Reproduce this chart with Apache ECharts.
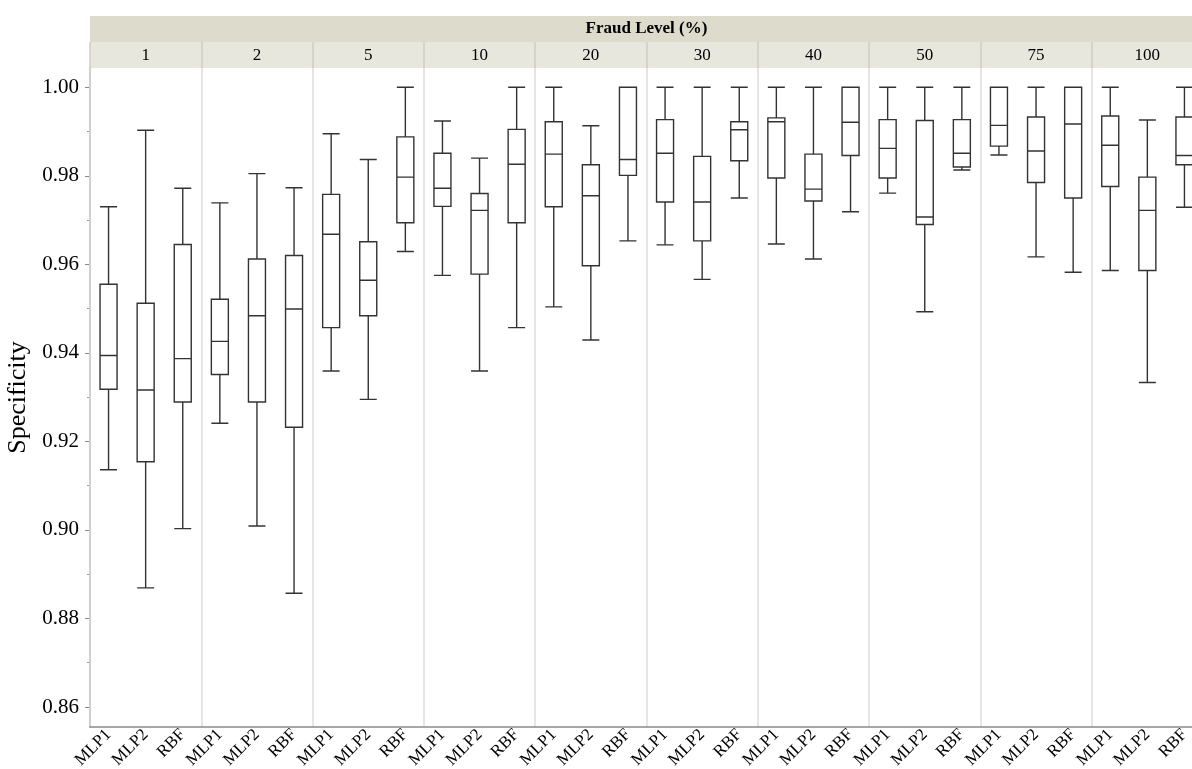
<!DOCTYPE html>
<html>
<head>
<meta charset="utf-8">
<script src="https://cdn.jsdelivr.net/npm/echarts@6/dist/echarts.min.js"></script>
<style>
  html, body { margin: 0; padding: 0; background: #fff; }
  #chart { width: 1192px; height: 769px; }
</style>
</head>
<body>
<div id="chart"></div>
<script>
// Fraud levels (%) and the three classifiers compared at each level
const fraudLevels = ['1', '2', '5', '10', '20', '30', '40', '50', '75', '100'];
const models = ['MLP1', 'MLP2', 'RBF'];

// Specificity box statistics per level: [min, Q1, median, Q3, max]
const mlp1 = [
  [0.9136, 0.9318, 0.9394, 0.9555, 0.9730],
  [0.9241, 0.9351, 0.9426, 0.9521, 0.9739],
  [0.9359, 0.9457, 0.9668, 0.9758, 0.9895],
  [0.9575, 0.9731, 0.9772, 0.9851, 0.9924],
  [0.9504, 0.9730, 0.9849, 0.9922, 1.0000],
  [0.9644, 0.9741, 0.9851, 0.9927, 1.0000],
  [0.9646, 0.9795, 0.9922, 0.9931, 1.0000],
  [0.9761, 0.9795, 0.9862, 0.9927, 1.0000],
  [0.9847, 0.9867, 0.9914, 1.0000, 1.0000],
  [0.9586, 0.9776, 0.9869, 0.9935, 1.0000]
];
const mlp2 = [
  [0.8869, 0.9154, 0.9316, 0.9512, 0.9903],
  [0.9009, 0.9289, 0.9484, 0.9612, 0.9805],
  [0.9295, 0.9484, 0.9564, 0.9651, 0.9837],
  [0.9359, 0.9578, 0.9722, 0.9760, 0.9840],
  [0.9429, 0.9597, 0.9755, 0.9825, 0.9913],
  [0.9566, 0.9653, 0.9741, 0.9844, 1.0000],
  [0.9612, 0.9743, 0.9770, 0.9849, 1.0000],
  [0.9493, 0.9690, 0.9707, 0.9925, 1.0000],
  [0.9617, 0.9785, 0.9856, 0.9933, 1.0000],
  [0.9333, 0.9586, 0.9722, 0.9797, 0.9926]
];
const rbf = [
  [0.9003, 0.9289, 0.9387, 0.9645, 0.9772],
  [0.8857, 0.9232, 0.9499, 0.9620, 0.9773],
  [0.9629, 0.9694, 0.9797, 0.9888, 1.0000],
  [0.9457, 0.9694, 0.9826, 0.9905, 1.0000],
  [0.9653, 0.9801, 0.9837, 1.0000, 1.0000],
  [0.9750, 0.9834, 0.9904, 0.9922, 1.0000],
  [0.9719, 0.9846, 0.9921, 1.0000, 1.0000],
  [0.9813, 0.9820, 0.9851, 0.9927, 1.0000],
  [0.9582, 0.9750, 0.9917, 1.0000, 1.0000],
  [0.9729, 0.9825, 0.9846, 0.9933, 1.0000]
];

// Y axis range and labelled tick values
const yMin = 0.85548;
const yMax = 1.00436;
const yTicks = [0.86, 0.88, 0.90, 0.92, 0.94, 0.96, 0.98, 1.00];

// Build one category per (level, model) pair, in panel order
const byModel = { MLP1: mlp1, MLP2: mlp2, RBF: rbf };
const categories = [];
const boxData = [];
fraudLevels.forEach((lvl, i) => {
  models.forEach(m => {
    categories.push(lvl + '|' + m);
    boxData.push(byModel[m][i]);
  });
});

const serif = '"Liberation Serif", "Times New Roman", serif';
// The last panel runs past the right edge of the page
const plotLeft = 90, plotTop = 68, plotWidth = 1113, plotHeight = 659;

const chart = echarts.init(document.getElementById('chart'));
chart.setOption({
  animation: false,
  backgroundColor: '#ffffff',
  graphic: [
    { type: 'rect', z: -10, silent: true,
      shape: { x: plotLeft, y: 16, width: plotWidth, height: 26 },
      style: { fill: '#dcdbcc' } },
    { type: 'rect', z: -10, silent: true,
      shape: { x: plotLeft, y: 42, width: plotWidth, height: 26 },
      style: { fill: '#e8e7de' } },
    { type: 'text', z: 10, silent: true,
      x: plotLeft + plotWidth / 2, y: 29,
      style: { text: 'Fraud Level (%)', fill: '#000', font: 'bold 17px ' + serif,
               textAlign: 'center', textVerticalAlign: 'middle' } }
  ],
  grid: {
    left: plotLeft, top: plotTop, width: plotWidth, height: plotHeight,
    containLabel: false,
    outerBoundsMode: 'none'
  },
  xAxis: [
    {
      type: 'category',
      data: categories,
      boundaryGap: true,
      position: 'bottom',
      z: 5,
      axisLine: { show: true, lineStyle: { color: '#8a8a8a', width: 1.5 } },
      axisTick: { show: false },
      splitLine: { show: false },
      axisLabel: {
        interval: 0,
        rotate: 45,
        margin: 5,
        color: '#000',
        fontFamily: serif,
        fontSize: 17,
        formatter: v => v.split('|')[1]
      }
    },
    {
      type: 'category',
      data: fraudLevels,
      boundaryGap: true,
      position: 'top',
      z: 5,
      axisLine: { show: false },
      axisTick: { show: true, inside: false, length: 26, lineStyle: { color: '#cfcec2', width: 1.5 } },
      splitLine: { show: true, interval: 0, lineStyle: { color: '#dcdcdc', width: 1.5 } },
      axisLabel: { interval: 0, margin: 4, color: '#000', fontFamily: serif, fontSize: 17 }
    }
  ],
  yAxis: {
    type: 'value',
    min: yMin,
    max: yMax,
    splitNumber: 7,
    name: 'Specificity',
    nameLocation: 'middle',
    nameGap: 52,
    nameTextStyle: { color: '#000', fontFamily: serif, fontSize: 26 },
    axisLine: { show: true, lineStyle: { color: '#8a8a8a', width: 1.5 } },
    axisTick: {
      show: true, inside: false, length: 5, lineStyle: { color: '#8a8a8a' },
      customValues: yTicks
    },
    minorTick: { show: true, splitNumber: 2, length: 3, lineStyle: { color: '#9a9a9a' } },
    splitLine: { show: false },
    axisLabel: {
      margin: 11,
      color: '#000',
      fontFamily: serif,
      fontSize: 21,
      customValues: yTicks,
      formatter: v => v.toFixed(2)
    }
  },
  series: [
    {
      type: 'boxplot',
      xAxisIndex: 0,
      data: boxData,
      boxWidth: [17, 17],
      itemStyle: { color: '#ffffff', borderColor: '#333333', borderWidth: 1.4 }
    }
  ]
});
</script>
</body>
</html>
